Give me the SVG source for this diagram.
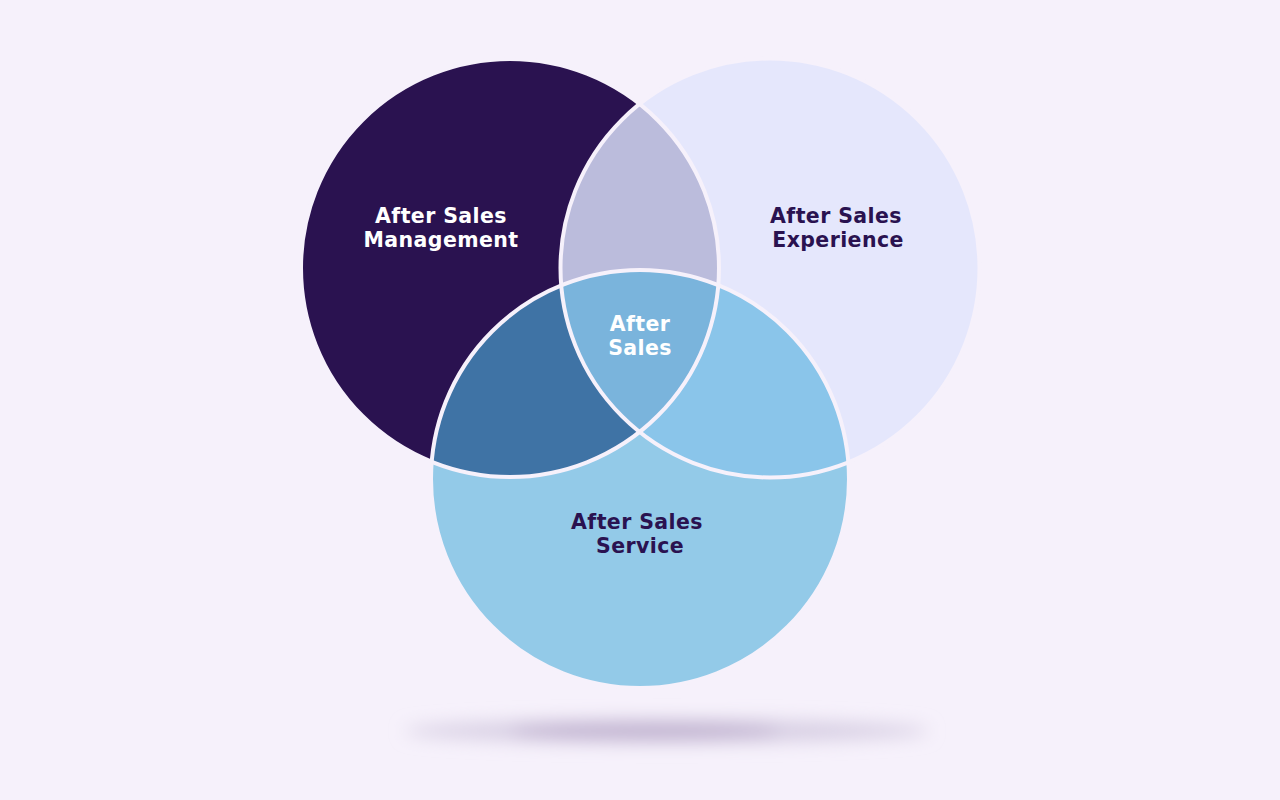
<svg xmlns="http://www.w3.org/2000/svg" width="1280" height="800" viewBox="0 0 1280 800">
  <style>
    .lbl { font-family: "DejaVu Sans", "Noto Sans", "Liberation Sans", sans-serif; font-weight: 700; font-size: 20.5px; letter-spacing: 0.4px; text-anchor: middle; }
    .light { fill: #ffffff; }
    .dark { fill: #2a1250; }
    .edge { fill: none; stroke: #f6f1fb; stroke-width: 4; }
  </style>
  <defs>
    <clipPath id="c1"><circle cx="510" cy="268" r="209"/></clipPath>
    <clipPath id="c2"><circle cx="770" cy="268" r="209.5"/></clipPath>
    <clipPath id="c3"><circle cx="640" cy="479" r="209"/></clipPath>
    <filter id="blur" x="-20%" y="-200%" width="140%" height="500%">
      <feGaussianBlur stdDeviation="9"/>
    </filter>
  </defs>
  <rect width="1280" height="800" fill="#f6f1fb"/>
  <g id="shadow" filter="url(#blur)">
    <ellipse cx="667" cy="731" rx="262" ry="11" fill="#d6cde2"/>
    <ellipse cx="645" cy="731" rx="135" ry="9" fill="#bfb1cf"/>
  </g>
  <g id="management">
    <circle cx="510" cy="268" r="209" fill="#2a1250"/>
  </g>
  <g id="experience">
    <circle cx="770" cy="268" r="209.5" fill="#e5e7fc"/>
  </g>
  <g id="service">
    <circle cx="640" cy="479" r="209" fill="#93cae8"/>
  </g>
  <g id="overlap-1-2" clip-path="url(#c1)">
    <circle cx="770" cy="268" r="209.5" fill="#bbbcdc"/>
  </g>
  <g id="overlap-1-3" clip-path="url(#c1)">
    <circle cx="640" cy="479" r="209" fill="#3f73a5"/>
  </g>
  <g id="overlap-2-3" clip-path="url(#c2)">
    <circle cx="640" cy="479" r="209" fill="#8ac5ea"/>
  </g>
  <g id="after-sales" clip-path="url(#c1)">
    <g clip-path="url(#c2)">
      <circle cx="640" cy="479" r="209" fill="#7ab4dc"/>
    </g>
  </g>
  <g id="connectors">
    <circle class="edge" cx="510" cy="268" r="209"/>
    <circle class="edge" cx="770" cy="268" r="209.5"/>
    <circle class="edge" cx="640" cy="479" r="209"/>
  </g>
  <g id="labels">
    <text class="lbl light" x="441" y="223">After Sales</text>
    <text class="lbl light" x="441" y="247">Management</text>
    <text class="lbl dark" x="836" y="223">After Sales</text>
    <text class="lbl dark" x="838" y="247">Experience</text>
    <text class="lbl dark" x="637" y="529">After Sales</text>
    <text class="lbl dark" x="640" y="553">Service</text>
    <text class="lbl light" x="640" y="331">After</text>
    <text class="lbl light" x="640" y="355">Sales</text>
  </g>
</svg>
